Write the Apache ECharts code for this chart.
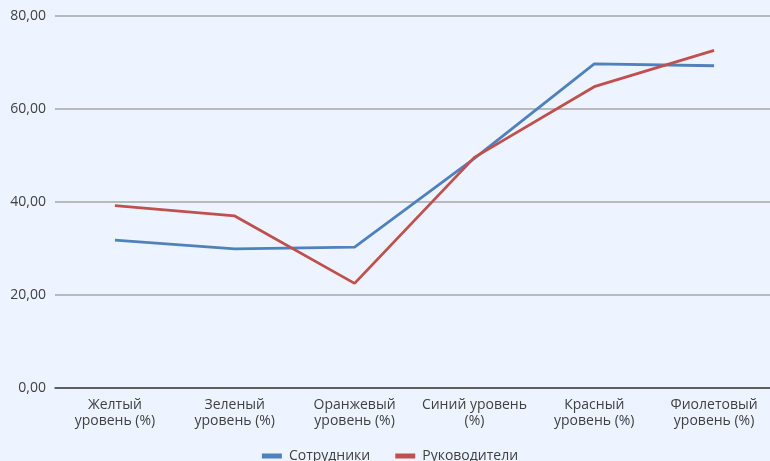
<!DOCTYPE html>
<html>
<head>
<meta charset="utf-8">
<script src="https://cdn.jsdelivr.net/npm/echarts@6/dist/echarts.min.js"></script>
<style>
  html, body { margin: 0; padding: 0; background: #EEF4FF; overflow: hidden; }
  /* plot runs slightly past the right edge of the window */
  #chart { width: 780px; height: 461px; }
</style>
</head>
<body>
<div id="chart"></div>
<script>
// Category labels (line breaks as shown under the axis)
var categories = [
  'Желтый\nуровень (%)',
  'Зеленый\nуровень (%)',
  'Оранжевый\nуровень (%)',
  'Синий уровень\n(%)',
  'Красный\nуровень (%)',
  'Фиолетовый\nуровень (%)'
];
var seriesNames = ['Сотрудники', 'Руководители'];
var employees = [31.8, 29.9, 30.3, 49.4, 69.7, 69.3];
var managers  = [39.2, 37.0, 22.5, 49.6, 64.8, 72.6];
var yTicks = { min: 0, max: 80, interval: 20 };

var chart = echarts.init(document.getElementById('chart'));
var font = '"Open Sans", "Noto Sans", sans-serif';
chart.setOption({
  backgroundColor: '#EEF4FF',
  animation: false,
  textStyle: { fontFamily: font },
  grid: { left: 55, width: 719, top: 16, height: 372, containLabel: false },
  legend: {
    bottom: -7,
    left: 'center',
    icon: 'rect',
    itemWidth: 20,
    itemHeight: 5,
    itemGap: 25,
    textStyle: { fontFamily: font, fontSize: 14, color: '#404040', padding: [0, 0, 0, 2] },
    data: seriesNames
  },
  xAxis: {
    type: 'category',
    data: categories,
    boundaryGap: true,
    axisLine: { lineStyle: { color: '#404040', width: 1.5 } },
    axisTick: { show: false },
    axisLabel: {
      color: '#404040', fontSize: 14, fontFamily: font,
      margin: 9, lineHeight: 16, interval: 0
    }
  },
  yAxis: {
    type: 'value',
    min: yTicks.min, max: yTicks.max, interval: yTicks.interval,
    axisLine: { show: false },
    axisTick: { show: false },
    splitLine: { lineStyle: { color: '#A6A6A6', width: 1.5 } },
    axisLabel: {
      color: '#404040', fontSize: 14, fontFamily: font, margin: 9,
      formatter: function (v) { return v.toFixed(2).replace('.', ','); }
    }
  },
  series: [
    {
      name: seriesNames[0], type: 'line', data: employees,
      symbol: 'none', color: '#4F81BD',
      lineStyle: { width: 2.8, color: '#4F81BD' }
    },
    {
      name: seriesNames[1], type: 'line', data: managers,
      symbol: 'none', color: '#C0504D',
      lineStyle: { width: 2.8, color: '#C0504D' }
    }
  ]
});
</script>
</body>
</html>
